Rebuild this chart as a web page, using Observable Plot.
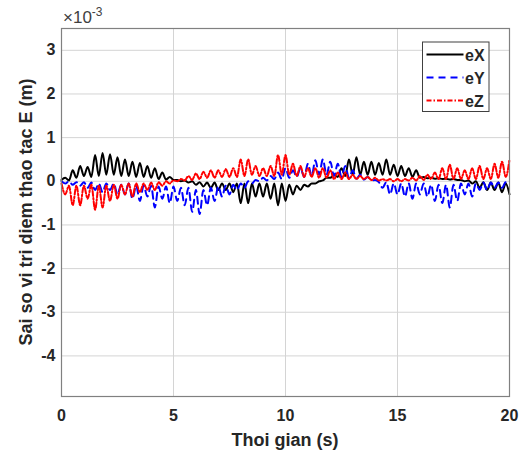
<!DOCTYPE html>
<html>
<head>
<meta charset="utf-8">
<script src="https://cdn.jsdelivr.net/npm/d3@7"></script>
<script src="https://cdn.jsdelivr.net/npm/@observablehq/plot@0.6"></script>
<style>
  html, body { margin: 0; padding: 0; background: #fff; }
  #chart { width: 527px; height: 452px; }
</style>
</head>
<body>
<div id="chart"></div>
<script>
// ---- data (values in units of 1e-3 m), sampled every 1/6 s (peaks and troughs) ----
const sampleStep = 1 / 6;
const eX = [
  0.03, 0.08, 0.02, 0.25, 0.08, 0.35, 0.12, 0.33, 0.10, 0.60,
  0.12, 0.65, 0.15, 0.62, 0.15, 0.55, 0.12, 0.50, 0.12, 0.45,
  0.10, 0.42, 0.10, 0.35, 0.08, 0.30, 0.05, 0.20, 0.04, 0.10,
  0.03, 0.03, 0.00, 0.02, -0.03, 0.00, -0.08, -0.02, -0.12, -0.03,
  -0.15, -0.03, -0.20, -0.05, -0.20, -0.05, -0.25, -0.05, -0.50, -0.05,
  -0.50, -0.05, -0.35, -0.05, -0.35, -0.05, -0.40, -0.05, -0.55, -0.05,
  -0.45, -0.08, -0.30, -0.10, -0.20, -0.08, -0.12, -0.05, -0.05, 0.00,
  0.02, 0.08, 0.08, 0.15, 0.10, 0.30, 0.12, 0.50, 0.15, 0.55,
  0.15, 0.45, 0.15, 0.45, 0.15, 0.42, 0.15, 0.50, 0.15, 0.38,
  0.12, 0.35, 0.12, 0.30, 0.10, 0.25, 0.08, 0.10, 0.07, 0.08,
  0.06, 0.07, 0.05, 0.06, 0.04, 0.05, 0.03, 0.03, 0.00, 0.02,
  -0.05, 0.00, -0.15, -0.02, -0.20, -0.03, -0.20, -0.03, -0.25, -0.05,
  -0.30
];
const eY = [
  0.00, -0.05, 0.00, -0.08, -0.02, -0.10, -0.02, -0.15, -0.03, -0.20,
  -0.05, -0.25, -0.05, -0.20, -0.05, -0.30, -0.08, -0.30, -0.05, -0.40,
  -0.10, -0.45, -0.10, -0.35, -0.10, -0.60, -0.12, -0.40, -0.12, -0.50,
  -0.12, -0.45, -0.15, -0.55, -0.15, -0.70, -0.20, -0.75, -0.20, -0.55,
  -0.15, -0.45, -0.12, -0.35, -0.10, -0.30, -0.08, -0.20, -0.05, -0.15,
  0.00, -0.05, 0.03, 0.00, 0.08, 0.02, 0.12, 0.05, 0.20, 0.05,
  0.30, 0.08, 0.25, 0.10, 0.30, 0.10, 0.40, 0.12, 0.48, 0.15,
  0.50, 0.15, 0.45, 0.12, 0.40, 0.10, 0.35, 0.08, 0.25, 0.06,
  0.15, 0.04, 0.10, 0.02, 0.03, -0.02, -0.15, -0.02, -0.30, -0.05,
  -0.30, -0.05, -0.35, -0.05, -0.40, -0.05, -0.30, -0.05, -0.35, -0.08,
  -0.45, -0.08, -0.50, -0.08, -0.60, -0.08, -0.45, -0.05, -0.30, -0.05,
  -0.35, -0.05, -0.20, -0.03, -0.20, -0.03, -0.15, -0.03, -0.15, -0.02,
  -0.05
];
const eZ = [
  -0.05, -0.30, -0.10, -0.55, -0.10, -0.55, -0.10, -0.40, -0.08, -0.65,
  -0.10, -0.60, -0.10, -0.45, -0.08, -0.40, -0.08, -0.30, -0.05, -0.35,
  -0.05, -0.25, -0.05, -0.20, -0.03, -0.20, -0.02, -0.10, 0.00, -0.05,
  0.02, 0.00, 0.05, 0.02, 0.12, 0.03, 0.18, 0.05, 0.22, 0.08,
  0.25, 0.08, 0.25, 0.10, 0.28, 0.10, 0.30, 0.10, 0.50, 0.12,
  0.50, 0.15, 0.35, 0.12, 0.30, 0.12, 0.35, 0.12, 0.60, 0.15,
  0.60, 0.15, 0.40, 0.12, 0.35, 0.10, 0.30, 0.10, 0.30, 0.08,
  0.30, 0.08, 0.25, 0.05, 0.20, 0.05, 0.20, 0.05, 0.15, 0.05,
  0.12, 0.05, 0.10, 0.03, 0.08, 0.02, 0.05, 0.02, 0.05, 0.00,
  0.05, 0.00, 0.05, 0.02, 0.08, 0.02, 0.12, 0.03, 0.15, 0.05,
  0.20, 0.05, 0.30, 0.05, 0.38, 0.05, 0.30, 0.05, 0.25, 0.05,
  0.30, 0.05, 0.35, 0.05, 0.30, 0.05, 0.40, 0.08, 0.45, 0.10,
  0.50
];
const seriesNames = ["eX", "eY", "eZ"];
const seriesColors = ["#000000", "#0000ff", "#ff0000"];
const seriesDash = [null, "7,5", "5,2,1.5,2"];
const xTicks = [0, 5, 10, 15, 20];
const yTicks = [-4, -3, -2, -1, 0, 1, 2, 3];
const xDomain = [0, 20];
const yDomain = [-4.93, 3.5];
const xLabel = "Thoi gian (s)";
const yLabel = "Sai so vi tri diem thao tac E (m)";

// ---- build table ----
const seriesValues = [eX, eY, eZ];
const rows = [];
seriesNames.forEach((name, s) => {
  seriesValues[s].forEach((v, i) => rows.push({t: i * sampleStep, v, series: name}));
});

const W = 527, H = 452;
const mL = 61, mR = 18, mT = 28, mB = 56;
const textColor = "#262626";
const font = "'Liberation Sans', Arial, sans-serif";

const lineMarks = seriesNames.map((name, s) =>
  Plot.line(rows.filter(d => d.series === name), {
    x: "t", y: "v",
    stroke: seriesColors[s],
    strokeWidth: 2,
    strokeDasharray: seriesDash[s] || undefined,
    curve: "monotone-x"
  })
);

const plot = Plot.plot({
  width: W, height: H,
  marginLeft: mL, marginRight: mR, marginTop: mT, marginBottom: mB,
  style: {fontFamily: font, fontSize: "16px", fontWeight: "bold", color: textColor, background: "#fff"},
  x: {domain: xDomain},
  y: {domain: yDomain},
  marks: [
    Plot.gridX(xTicks, {stroke: "#d4d4d4", strokeOpacity: 1, strokeWidth: 1}),
    Plot.gridY(yTicks, {stroke: "#d4d4d4", strokeOpacity: 1, strokeWidth: 1}),
    ...lineMarks,
    Plot.frame({stroke: "#808080", strokeWidth: 1.2}),
    Plot.axisX(xTicks, {tickSize: 0, tickPadding: 13, label: null, tickFormat: d => String(d), fill: textColor}),
    Plot.axisY(yTicks, {tickSize: 0, tickPadding: 6, label: null, tickFormat: d => String(d), fill: textColor})
  ]
});

document.getElementById("chart").appendChild(plot);

const svg = d3.select(plot);

// axis labels
svg.append("text")
  .attr("x", mL + (W - mL - mR) / 2).attr("y", 446)
  .attr("text-anchor", "middle")
  .attr("font-family", font).attr("font-size", 18).attr("font-weight", "bold")
  .attr("fill", textColor)
  .text(xLabel);

svg.append("text")
  .attr("transform", `translate(32, ${mT + (H - mT - mB) / 2}) rotate(-90)`)
  .attr("text-anchor", "middle")
  .attr("font-family", font).attr("font-size", 18).attr("font-weight", "bold")
  .attr("fill", textColor)
  .text(yLabel);

// exponent label
const ex = svg.append("text")
  .attr("x", 63).attr("y", 23)
  .attr("text-anchor", "start")
  .attr("font-family", font).attr("font-size", 17).attr("font-weight", "normal")
  .attr("fill", "#404040");
ex.append("tspan").text("×10");
ex.append("tspan").attr("font-size", 12).attr("dy", -7).text("-3");

// legend
const lg = svg.append("g");
const lx = 422.5, ly = 42, lw = 66.5, lh = 69.5;
lg.append("rect").attr("x", lx).attr("y", ly).attr("width", lw).attr("height", lh)
  .attr("fill", "#fff").attr("stroke", "#404040").attr("stroke-width", 1);
seriesNames.forEach((name, s) => {
  const yy = ly + 12.5 + s * 23;
  lg.append("line").attr("x1", lx + 4).attr("x2", lx + 41).attr("y1", yy).attr("y2", yy)
    .attr("stroke", seriesColors[s]).attr("stroke-width", 2)
    .attr("stroke-dasharray", seriesDash[s]);
  lg.append("text").attr("x", lx + 42.5).attr("y", yy + 6)
    .attr("text-anchor", "start")
    .attr("font-family", font).attr("font-size", 16).attr("font-weight", "bold")
    .attr("fill", textColor).text(name);
});
</script>
</body>
</html>
